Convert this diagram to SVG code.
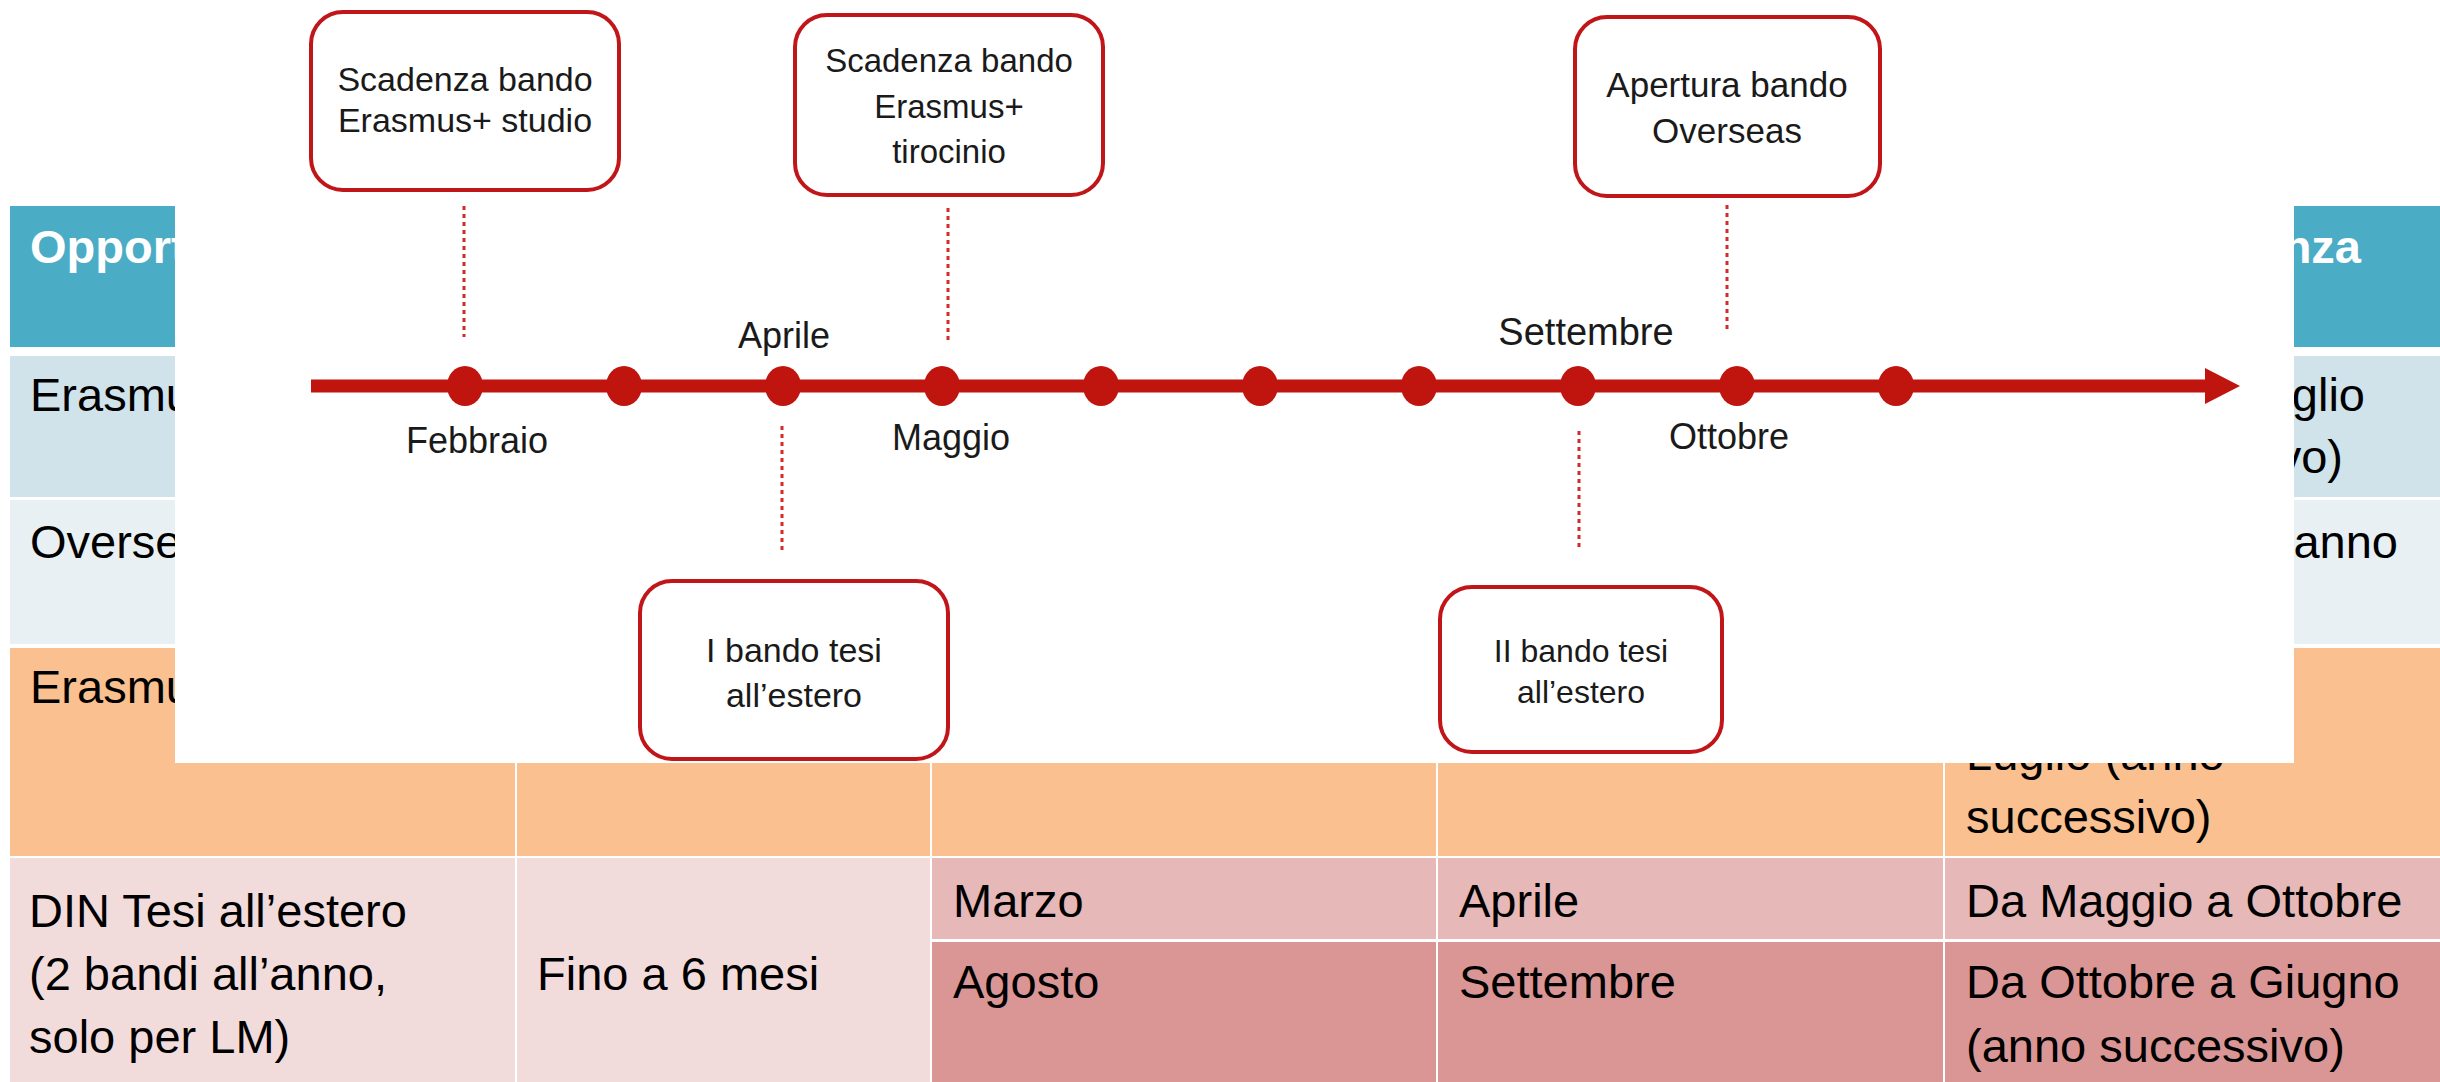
<svg xmlns="http://www.w3.org/2000/svg" width="2440" height="1082" viewBox="0 0 2440 1082">
<style>
.t{font-family:"Liberation Sans",Arial,sans-serif;font-size:47px;fill:#000}
.h{font-family:"Liberation Sans",Arial,sans-serif;font-size:47px;font-weight:bold;fill:#fff}
.bx{fill:#fff;stroke:#C0161A;stroke-width:4}
.bt{font-family:"Liberation Sans",Arial,sans-serif;font-size:34px;fill:#1a1a1a;text-anchor:middle}
.lb{font-family:"Liberation Sans",Arial,sans-serif;font-size:36px;fill:#1a1a1a;text-anchor:middle}
.dl{stroke:#D42A2A;stroke-width:3;stroke-dasharray:4 4;fill:none}
.dot{fill:#C0140F}
</style>
<rect x="0" y="0" width="2440" height="1082" fill="#fff"/>
<g id="table">
  <rect x="10" y="206" width="2430" height="141" fill="#4BACC6"/>
  <rect x="10" y="356" width="2430" height="141" fill="#D0E3EA"/>
  <rect x="10" y="500" width="2430" height="144" fill="#E8F0F3"/>
  <rect x="10" y="648" width="505" height="208" fill="#FAC08F"/>
  <rect x="517" y="648" width="413" height="208" fill="#FAC08F"/>
  <rect x="932" y="648" width="504" height="208" fill="#FAC08F"/>
  <rect x="1438" y="648" width="505" height="208" fill="#FAC08F"/>
  <rect x="1945" y="648" width="495" height="208" fill="#FAC08F"/>
  <rect x="10" y="858" width="505" height="224" fill="#F2DCDB"/>
  <rect x="517" y="858" width="413" height="224" fill="#F2DCDB"/>
  <rect x="932" y="858" width="504" height="81" fill="#E6B8B7"/>
  <rect x="1438" y="858" width="505" height="81" fill="#E6B8B7"/>
  <rect x="1945" y="858" width="495" height="81" fill="#E6B8B7"/>
  <rect x="932" y="942" width="504" height="140" fill="#DA9694"/>
  <rect x="1438" y="942" width="505" height="140" fill="#DA9694"/>
  <rect x="1945" y="942" width="495" height="140" fill="#DA9694"/>
  <text class="h" x="30" y="263">Opport</text>
  <text class="h" x="2361" y="263" text-anchor="end">nza</text>
  <text class="t" x="30" y="411">Erasmu</text>
  <text class="t" x="2365" y="411" text-anchor="end">glio</text>
  <text class="t" x="2343" y="473" text-anchor="end">vo)</text>
  <text class="t" x="30" y="558">Overse</text>
  <text class="t" x="2398" y="558" text-anchor="end">anno</text>
  <text class="t" x="30" y="703">Erasmu</text>
  <text class="t" x="1966" y="770">Luglio (anno</text>
  <text class="t" x="1966" y="833">successivo)</text>
  <text class="t" x="29" y="927">DIN Tesi all’estero</text>
  <text class="t" x="29" y="990">(2 bandi all’anno,</text>
  <text class="t" x="29" y="1053">solo per LM)</text>
  <text class="t" x="537" y="990">Fino a 6 mesi</text>
  <text class="t" x="953" y="917">Marzo</text>
  <text class="t" x="953" y="998">Agosto</text>
  <text class="t" x="1459" y="917">Aprile</text>
  <text class="t" x="1459" y="998">Settembre</text>
  <text class="t" x="1966" y="917">Da Maggio a Ottobre</text>
  <text class="t" x="1966" y="998">Da Ottobre a Giugno</text>
  <text class="t" x="1966" y="1062">(anno successivo)</text>
</g>
<rect id="timeline-panel" x="175" y="0" width="2119" height="763" fill="#fff"/>
<g id="timeline-axis">
  <rect x="311" y="379.5" width="1896" height="13" fill="#C0140F"/>
  <polygon points="2205,368 2240,386 2205,404" fill="#C0140F"/>
  <ellipse class="dot" cx="465" cy="386" rx="18" ry="20"/>
  <ellipse class="dot" cx="624" cy="386" rx="18" ry="20"/>
  <ellipse class="dot" cx="783" cy="386" rx="18" ry="20"/>
  <ellipse class="dot" cx="942" cy="386" rx="18" ry="20"/>
  <ellipse class="dot" cx="1101" cy="386" rx="18" ry="20"/>
  <ellipse class="dot" cx="1260" cy="386" rx="18" ry="20"/>
  <ellipse class="dot" cx="1419" cy="386" rx="18" ry="20"/>
  <ellipse class="dot" cx="1578" cy="386" rx="18" ry="20"/>
  <ellipse class="dot" cx="1737" cy="386" rx="18" ry="20"/>
  <ellipse class="dot" cx="1896" cy="386" rx="18" ry="20"/>
  <text class="lb" x="477" y="453">Febbraio</text>
  <text class="lb" x="784" y="348">Aprile</text>
  <text class="lb" x="951" y="450">Maggio</text>
  <text class="lb" x="1586" y="345" style="font-size:38px">Settembre</text>
  <text class="lb" x="1729" y="449">Ottobre</text>
</g>
<g id="connectors">
  <line class="dl" x1="464" y1="206" x2="464" y2="337"/>
  <line class="dl" x1="948" y1="208" x2="948" y2="342"/>
  <line class="dl" x1="782" y1="426" x2="782" y2="552"/>
  <line class="dl" x1="1579" y1="431" x2="1579" y2="547"/>
  <line class="dl" x1="1727" y1="205" x2="1727" y2="330"/>
</g>
<g id="box-erasmus-studio">
  <rect class="bx" x="311" y="12" width="308" height="178" rx="32" ry="32"/>
  <text class="bt" x="465" y="91">Scadenza bando</text>
  <text class="bt" x="465" y="132">Erasmus+ studio</text>
</g>
<g id="box-erasmus-tirocinio">
  <rect class="bx" x="795" y="15" width="308" height="180" rx="32" ry="32"/>
  <text class="bt" x="949" y="72" style="font-size:33px">Scadenza bando</text>
  <text class="bt" x="949" y="118" style="font-size:33px">Erasmus+</text>
  <text class="bt" x="949" y="163" style="font-size:33px">tirocinio</text>
</g>
<g id="box-overseas">
  <rect class="bx" x="1575" y="17" width="305" height="179" rx="32" ry="32"/>
  <text class="bt" x="1727" y="97" style="font-size:35px">Apertura bando</text>
  <text class="bt" x="1727" y="143" style="font-size:35px">Overseas</text>
</g>
<g id="box-tesi-1">
  <rect class="bx" x="640" y="581" width="308" height="178" rx="32" ry="32"/>
  <text class="bt" x="794" y="662">I bando tesi</text>
  <text class="bt" x="794" y="707">all’estero</text>
</g>
<g id="box-tesi-2">
  <rect class="bx" x="1440" y="587" width="282" height="165" rx="32" ry="32"/>
  <text class="bt" x="1581" y="662" style="font-size:32px">II bando tesi</text>
  <text class="bt" x="1581" y="703" style="font-size:32px">all’estero</text>
</g>
</svg>
